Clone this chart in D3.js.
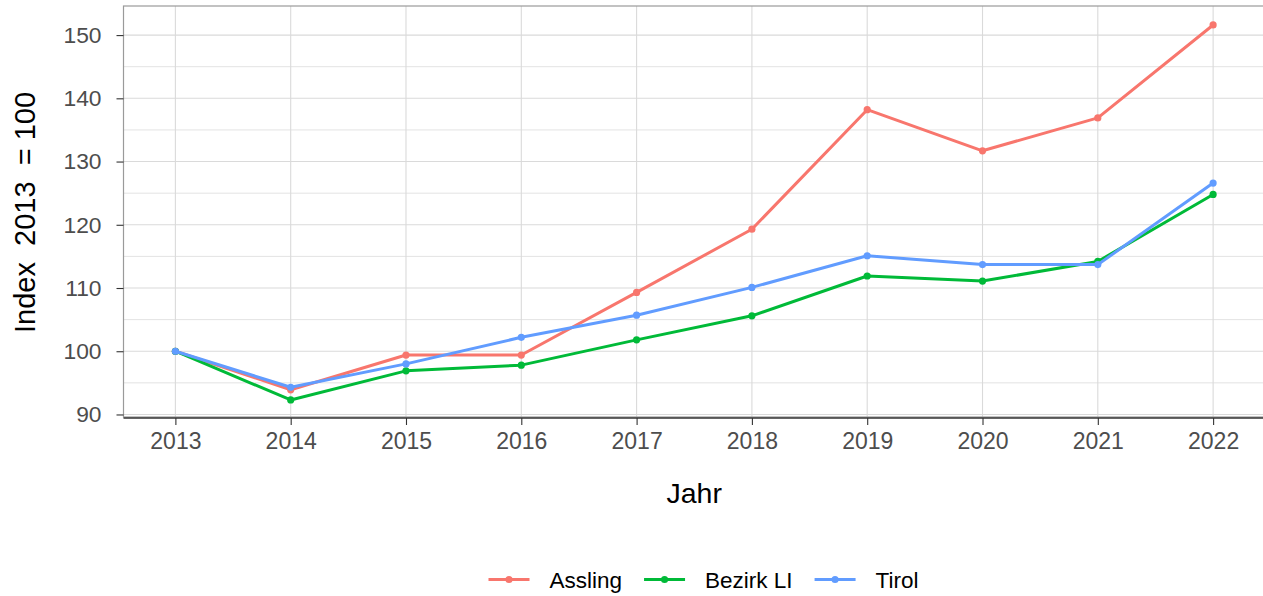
<!DOCTYPE html>
<html>
<head>
<meta charset="utf-8">
<script src="https://cdn.jsdelivr.net/npm/d3@7"></script>
<style>
  body { margin: 0; background: #fff; }
  svg { display: block; font-family: "Liberation Sans", Arial, sans-serif; }
</style>
</head>
<body>
<svg id="chart" width="1263" height="596"></svg>
<script>
// data
const years = [2013, 2014, 2015, 2016, 2017, 2018, 2019, 2020, 2021, 2022];
const assling = [100, 93.9, 99.4, 99.4, 109.3, 119.3, 138.2, 131.7, 136.9, 151.6];
const bezirkLI = [100, 92.3, 96.9, 97.8, 101.8, 105.6, 111.9, 111.1, 114.2, 124.8];
const tirol = [100, 94.3, 98.0, 102.2, 105.7, 110.1, 115.1, 113.7, 113.7, 126.6];
const seriesNames = ['Assling', 'Bezirk LI', 'Tirol'];
const seriesColors = ['#F8766D', '#00BA38', '#619CFF'];
const yTicks = [90, 100, 110, 120, 130, 140, 150];
const yMinor = [95, 105, 115, 125, 135, 145];
const yLimits = [89.6, 154.6];

const seriesData = [assling, bezirkLI, tirol];

const svg = d3.select('#chart');
const pLeft = 123.5, pTop = 6, pRight = 1265, pBottom = 417;
const fontFam = '"Liberation Sans", Arial, sans-serif';

const y = d3.scaleLinear().domain(yLimits).range([pBottom, pTop]);

// 5% expansion on x, like ggplot
const xPad = (years[years.length - 1] - years[0]) * 0.05;
const x = d3.scaleLinear()
  .domain([years[0] - xPad, years[years.length - 1] + xPad])
  .range([pLeft, pRight]);

// grid
const grid = svg.append('g');
grid.selectAll('.ymin').data(yMinor).enter().append('line')
  .attr('x1', pLeft).attr('x2', pRight)
  .attr('y1', d => y(d)).attr('y2', d => y(d))
  .attr('stroke', '#e3e3e3').attr('stroke-width', 1);
grid.selectAll('.ymaj').data(yTicks).enter().append('line')
  .attr('x1', pLeft).attr('x2', pRight)
  .attr('y1', d => y(d)).attr('y2', d => y(d))
  .attr('stroke', '#dadada').attr('stroke-width', 1.1);
grid.selectAll('.xmaj').data(years).enter().append('line')
  .attr('x1', d => x(d)).attr('x2', d => x(d))
  .attr('y1', pTop).attr('y2', pBottom)
  .attr('stroke', '#dadada').attr('stroke-width', 1.1);

// panel border
svg.append('rect')
  .attr('x', pLeft).attr('y', pTop)
  .attr('width', pRight - pLeft).attr('height', pBottom - pTop)
  .attr('fill', 'none').attr('stroke', '#9a9a9a').attr('stroke-width', 1.2);

// lines + points
const line = d3.line().x((d, i) => x(years[i])).y(d => y(d));
seriesData.forEach((vals, k) => {
  svg.append('path')
    .datum(vals)
    .attr('d', line)
    .attr('fill', 'none')
    .attr('stroke', seriesColors[k])
    .attr('stroke-width', 3)
    .attr('stroke-linejoin', 'round');
  svg.append('g').selectAll('circle').data(vals).enter().append('circle')
    .attr('cx', (d, i) => x(years[i]))
    .attr('cy', d => y(d))
    .attr('r', 3.6)
    .attr('fill', seriesColors[k]);
});

// x axis
const xAxis = svg.append('g')
  .attr('transform', 'translate(0,' + (pBottom + 1) + ')')
  .call(d3.axisBottom(x).tickValues(years).tickFormat(d3.format('d')).tickSize(7).tickPadding(8));
xAxis.select('.domain').attr('stroke', '#333').attr('stroke-width', 1.6)
  .attr('d', 'M' + pLeft + ',0H' + pRight);
xAxis.selectAll('.tick line').attr('stroke', '#333').attr('stroke-width', 1.1);
xAxis.selectAll('.tick text').attr('fill', '#4d4d4d').style('font-size', '23px')
  .style('font-family', fontFam);

// y axis
const yAxis = svg.append('g')
  .attr('transform', 'translate(' + pLeft + ',0)')
  .call(d3.axisLeft(y).tickValues(yTicks).tickSize(7).tickPadding(15));
yAxis.select('.domain').remove();
yAxis.selectAll('.tick line').attr('stroke', '#333').attr('stroke-width', 1.1);
yAxis.selectAll('.tick text').attr('fill', '#4d4d4d').style('font-size', '22.8px')
  .style('font-family', fontFam);

// titles
svg.append('text')
  .attr('x', (pLeft + pRight) / 2).attr('y', 503)
  .attr('text-anchor', 'middle')
  .style('font-size', '28.5px').attr('fill', '#000')
  .text('Jahr');

svg.append('text')
  .attr('transform', 'translate(35,' + ((pTop + pBottom) / 2 + 1) + ') rotate(-90)')
  .attr('text-anchor', 'middle')
  .style('font-size', '29px').attr('fill', '#000')
  .attr('xml:space', 'preserve')
  .style('white-space', 'pre')
  .text('Index  2013  = 100');

// legend
const legend = svg.append('g');
const keyW = 41, keyGap = 20, itemGap = 22;
let cx = 0;
seriesNames.forEach((name, k) => {
  const g = legend.append('g');
  g.append('line')
    .attr('x1', cx).attr('x2', cx + keyW).attr('y1', 0).attr('y2', 0)
    .attr('stroke', seriesColors[k]).attr('stroke-width', 3);
  g.append('circle')
    .attr('cx', cx + keyW / 2).attr('cy', 0).attr('r', 3.6)
    .attr('fill', seriesColors[k]);
  const t = g.append('text')
    .attr('x', cx + keyW + keyGap).attr('y', 0).attr('dy', '0.36em')
    .style('font-size', '22.5px').attr('fill', '#000')
    .text(name);
  cx += keyW + keyGap + t.node().getComputedTextLength() + itemGap;
});
const legendW = cx - itemGap;
legend.attr('transform', 'translate(' + (703.5 - legendW / 2) + ',579.5)');
</script>
</body>
</html>
